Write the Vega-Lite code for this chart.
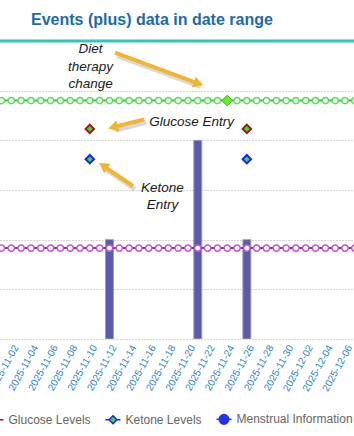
{
  "$schema": "https://vega.github.io/schema/vega-lite/v6.json",
  "width": 354,
  "height": 298,
  "autosize": {"type": "none"},
  "padding": {"left": 0, "top": 41, "right": 0, "bottom": 97},
  "title": {"text": "Events (plus) data in date range", "anchor": "start", "frame": "group", "dx": 31, "offset": -1.5, "baseline": "alphabetic", "font": "Liberation Sans", "fontSize": 16, "fontWeight": "bold", "color": "#1b6ca8"},
  "config": {
    "view": {"stroke": null},
    "axisX": {"labels": false, "grid": false, "domain": false, "ticks": false},
    "axisY": {"grid": true, "gridDash": [1,2], "gridColor": "#aaaaaa", "gridWidth": 1, "labels": false, "ticks": false, "domain": false}
  },
  "datasets": {
    "daily": [
      {"date":"2025-10-31T12:00","series":"diet","value":4.8},{"date":"2025-11-01T12:00","series":"diet","value":4.8},{"date":"2025-11-02T12:00","series":"diet","value":4.8},{"date":"2025-11-03T12:00","series":"diet","value":4.8},{"date":"2025-11-04T12:00","series":"diet","value":4.8},{"date":"2025-11-05T12:00","series":"diet","value":4.8},{"date":"2025-11-06T12:00","series":"diet","value":4.8},{"date":"2025-11-07T12:00","series":"diet","value":4.8},{"date":"2025-11-08T12:00","series":"diet","value":4.8},{"date":"2025-11-09T12:00","series":"diet","value":4.8},{"date":"2025-11-10T12:00","series":"diet","value":4.8},{"date":"2025-11-11T12:00","series":"diet","value":4.8},{"date":"2025-11-12T12:00","series":"diet","value":4.8},{"date":"2025-11-13T12:00","series":"diet","value":4.8},{"date":"2025-11-14T12:00","series":"diet","value":4.8},{"date":"2025-11-15T12:00","series":"diet","value":4.8},{"date":"2025-11-16T12:00","series":"diet","value":4.8},{"date":"2025-11-17T12:00","series":"diet","value":4.8},{"date":"2025-11-18T12:00","series":"diet","value":4.8},{"date":"2025-11-19T12:00","series":"diet","value":4.8},{"date":"2025-11-20T12:00","series":"diet","value":4.8},{"date":"2025-11-21T12:00","series":"diet","value":4.8},{"date":"2025-11-22T12:00","series":"diet","value":4.8},{"date":"2025-11-23T12:00","series":"diet","value":4.8},{"date":"2025-11-24T12:00","series":"diet","value":4.8},{"date":"2025-11-25T12:00","series":"diet","value":4.8},{"date":"2025-11-26T12:00","series":"diet","value":4.8},{"date":"2025-11-27T12:00","series":"diet","value":4.8},{"date":"2025-11-28T12:00","series":"diet","value":4.8},{"date":"2025-11-29T12:00","series":"diet","value":4.8},{"date":"2025-11-30T12:00","series":"diet","value":4.8},{"date":"2025-12-01T12:00","series":"diet","value":4.8},{"date":"2025-12-02T12:00","series":"diet","value":4.8},{"date":"2025-12-03T12:00","series":"diet","value":4.8},{"date":"2025-12-04T12:00","series":"diet","value":4.8},{"date":"2025-12-05T12:00","series":"diet","value":4.8},{"date":"2025-12-06T12:00","series":"diet","value":4.8},
      {"date":"2025-10-31T12:00","series":"menstrual","value":1.83},{"date":"2025-11-01T12:00","series":"menstrual","value":1.83},{"date":"2025-11-02T12:00","series":"menstrual","value":1.83},{"date":"2025-11-03T12:00","series":"menstrual","value":1.83},{"date":"2025-11-04T12:00","series":"menstrual","value":1.83},{"date":"2025-11-05T12:00","series":"menstrual","value":1.83},{"date":"2025-11-06T12:00","series":"menstrual","value":1.83},{"date":"2025-11-07T12:00","series":"menstrual","value":1.83},{"date":"2025-11-08T12:00","series":"menstrual","value":1.83},{"date":"2025-11-09T12:00","series":"menstrual","value":1.83},{"date":"2025-11-10T12:00","series":"menstrual","value":1.83},{"date":"2025-11-11T12:00","series":"menstrual","value":1.83},{"date":"2025-11-12T12:00","series":"menstrual","value":1.83},{"date":"2025-11-13T12:00","series":"menstrual","value":1.83},{"date":"2025-11-14T12:00","series":"menstrual","value":1.83},{"date":"2025-11-15T12:00","series":"menstrual","value":1.83},{"date":"2025-11-16T12:00","series":"menstrual","value":1.83},{"date":"2025-11-17T12:00","series":"menstrual","value":1.83},{"date":"2025-11-18T12:00","series":"menstrual","value":1.83},{"date":"2025-11-19T12:00","series":"menstrual","value":1.83},{"date":"2025-11-20T12:00","series":"menstrual","value":1.83},{"date":"2025-11-21T12:00","series":"menstrual","value":1.83},{"date":"2025-11-22T12:00","series":"menstrual","value":1.83},{"date":"2025-11-23T12:00","series":"menstrual","value":1.83},{"date":"2025-11-24T12:00","series":"menstrual","value":1.83},{"date":"2025-11-25T12:00","series":"menstrual","value":1.83},{"date":"2025-11-26T12:00","series":"menstrual","value":1.83},{"date":"2025-11-27T12:00","series":"menstrual","value":1.83},{"date":"2025-11-28T12:00","series":"menstrual","value":1.83},{"date":"2025-11-29T12:00","series":"menstrual","value":1.83},{"date":"2025-11-30T12:00","series":"menstrual","value":1.83},{"date":"2025-12-01T12:00","series":"menstrual","value":1.83},{"date":"2025-12-02T12:00","series":"menstrual","value":1.83},{"date":"2025-12-03T12:00","series":"menstrual","value":1.83},{"date":"2025-12-04T12:00","series":"menstrual","value":1.83},{"date":"2025-12-05T12:00","series":"menstrual","value":1.83},{"date":"2025-12-06T12:00","series":"menstrual","value":1.83}
    ],
    "ticks": [
      {"date":"2025-11-02T00:00"},{"date":"2025-11-04T00:00"},{"date":"2025-11-06T00:00"},{"date":"2025-11-08T00:00"},{"date":"2025-11-10T00:00"},{"date":"2025-11-12T00:00"},{"date":"2025-11-14T00:00"},{"date":"2025-11-16T00:00"},{"date":"2025-11-18T00:00"},{"date":"2025-11-20T00:00"},{"date":"2025-11-22T00:00"},{"date":"2025-11-24T00:00"},{"date":"2025-11-26T00:00"},{"date":"2025-11-28T00:00"},{"date":"2025-11-30T00:00"},{"date":"2025-12-02T00:00"},{"date":"2025-12-04T00:00"},{"date":"2025-12-06T00:00"}
    ],
    "bars": [
      {"date":"2025-11-11T12:00","value":2},
      {"date":"2025-11-20T12:00","value":4},
      {"date":"2025-11-25T12:00","value":2}
    ],
    "entries": [
      {"date":"2025-11-09T12:00","series":"Glucose Levels","value":4.23},
      {"date":"2025-11-25T12:00","series":"Glucose Levels","value":4.23},
      {"date":"2025-11-09T12:00","series":"Ketone Levels","value":3.62},
      {"date":"2025-11-25T12:00","series":"Ketone Levels","value":3.62}
    ],
    "events": [
      {"date":"2025-11-23T12:00","value":4.8,"event":"Diet therapy change"}
    ],
    "arrows": [
      {"date":"2025-11-20T13:41","value":5.144,"date2":"2025-11-12T01:41","value2":5.764,"heading":19.7},
      {"date":"2025-11-11T20:34","value":4.264,"date2":"2025-11-15T01:05","value2":4.423,"heading":166.2},
      {"date":"2025-11-10T20:47","value":3.487,"date2":"2025-11-13T21:30","value2":3.08,"heading":213.4}
    ],
    "notes": [
      {"date":"2025-11-09T13:41","value":5.838,"label":"Diet"},
      {"date":"2025-11-09T13:41","value":5.486,"label":"therapy"},
      {"date":"2025-11-09T13:41","value":5.144,"label":"change"},
      {"date":"2025-11-19T20:53","value":4.375,"label":"Glucose Entry"},
      {"date":"2025-11-16T21:36","value":3.034,"label":"Ketone"},
      {"date":"2025-11-16T21:36","value":2.688,"label":"Entry"}
    ]
  },
  "layer": [
    {
      "data": {"name": "bars"},
      "mark": {"type": "bar", "width": 8, "color": "#5a5cab", "stroke": "#a0a0a8", "strokeWidth": 1, "clip": true},
      "encoding": {
        "x": {"field": "date", "type": "temporal", "title": null, "scale": {"domain": [{"year":2025,"month":10,"date":31,"hours":20,"minutes":34},{"year":2025,"month":12,"date":5,"hours":21,"minutes":46}]}},
        "y": {"field": "value", "type": "quantitative", "title": null, "scale": {"domain": [0, 6]}, "axis": {"values": [0,1,2,3,4,5]}}
      }
    },
    {
      "data": {"name": "ticks"},
      "mark": {"type": "text", "angle": 299, "align": "right", "baseline": "middle", "font": "Liberation Sans", "fontSize": 10, "color": "#1f7fd6", "yOffset": 7},
      "encoding": {
        "x": {"field": "date", "type": "temporal", "title": null, "scale": {"domain": [{"year":2025,"month":10,"date":31,"hours":20,"minutes":34},{"year":2025,"month":12,"date":5,"hours":21,"minutes":46}]}},
        "y": {"datum": 0, "type": "quantitative", "scale": {"domain": [0, 6]}},
        "text": {"field": "date", "type": "temporal", "format": "%Y-%m-%d"}
      }
    },
    {
      "data": {"name": "daily"},
      "transform": [{"filter": "datum.series === 'diet'"}],
      "mark": {"type": "line", "color": "#2ecc2e", "strokeWidth": 2, "clip": true},
      "encoding": {
        "x": {"field": "date", "type": "temporal", "title": null, "scale": {"domain": [{"year":2025,"month":10,"date":31,"hours":20,"minutes":34},{"year":2025,"month":12,"date":5,"hours":21,"minutes":46}]}},
        "y": {"field": "value", "type": "quantitative", "title": null, "scale": {"domain": [0, 6]}}
      }
    },
    {
      "data": {"name": "daily"},
      "transform": [{"filter": "datum.series === 'diet'"}],
      "mark": {"type": "point", "shape": "circle", "filled": true, "fill": "#ffffff", "stroke": "#5ade5a", "strokeWidth": 1.5, "size": 40, "opacity": 1, "clip": true},
      "encoding": {
        "x": {"field": "date", "type": "temporal", "title": null, "scale": {"domain": [{"year":2025,"month":10,"date":31,"hours":20,"minutes":34},{"year":2025,"month":12,"date":5,"hours":21,"minutes":46}]}},
        "y": {"field": "value", "type": "quantitative", "title": null, "scale": {"domain": [0, 6]}}
      }
    },
    {
      "data": {"name": "daily"},
      "transform": [{"filter": "datum.series === 'menstrual'"}],
      "mark": {"type": "line", "color": "#a020a8", "strokeWidth": 2, "clip": true},
      "encoding": {
        "x": {"field": "date", "type": "temporal", "title": null, "scale": {"domain": [{"year":2025,"month":10,"date":31,"hours":20,"minutes":34},{"year":2025,"month":12,"date":5,"hours":21,"minutes":46}]}},
        "y": {"field": "value", "type": "quantitative", "title": null, "scale": {"domain": [0, 6]}}
      }
    },
    {
      "data": {"name": "daily"},
      "transform": [{"filter": "datum.series === 'menstrual'"}],
      "mark": {"type": "point", "shape": "circle", "filled": true, "fill": "#ffffff", "stroke": "#c458d0", "strokeWidth": 1.5, "size": 40, "opacity": 1, "clip": true},
      "encoding": {
        "x": {"field": "date", "type": "temporal", "title": null, "scale": {"domain": [{"year":2025,"month":10,"date":31,"hours":20,"minutes":34},{"year":2025,"month":12,"date":5,"hours":21,"minutes":46}]}},
        "y": {"field": "value", "type": "quantitative", "title": null, "scale": {"domain": [0, 6]}}
      }
    },
    {
      "data": {"name": "entries"},
      "mark": {"type": "point", "shape": "diamond", "filled": true, "size": 72, "strokeWidth": 2, "opacity": 1},
      "encoding": {
        "x": {"field": "date", "type": "temporal", "title": null, "scale": {"domain": [{"year":2025,"month":10,"date":31,"hours":20,"minutes":34},{"year":2025,"month":12,"date":5,"hours":21,"minutes":46}]}},
        "y": {"field": "value", "type": "quantitative", "title": null, "scale": {"domain": [0, 6]}},
        "fill": {"field": "series", "type": "nominal", "scale": {"domain": ["Glucose Levels", "Ketone Levels", "Menstrual Information"], "range": ["#33dd33", "#33dd33", "#2233ee"]},
          "legend": {"title": null, "orient": "none", "legendX": -12.5, "legendY": 369.5, "direction": "horizontal", "padding": 0, "symbolSize": 225, "symbolStrokeWidth": 1.5, "labelFont": "Liberation Sans", "labelFontSize": 12, "labelColor": "#666666", "labelOffset": 4, "columnPadding": 11, "labelLimit": 300,
            "encoding": {"symbols": {"shape": {"value": {"expr": "datum.value === 'Menstrual Information' ? 'M-1,0L-0.64,0M0.64,0L1,0M-0.64,0A0.64,0.64 0 1,0 0.64,0A0.64,0.64 0 1,0 -0.64,0Z' : 'M-1,0L-0.53,0M0.53,0L1,0M0,-0.53L0.53,0L0,0.53L-0.53,0Z'"}}}}}},
        "stroke": {"field": "series", "type": "nominal", "scale": {"domain": ["Glucose Levels", "Ketone Levels", "Menstrual Information"], "range": ["#a01818", "#2222ee", "#2233ee"]},
          "legend": {"title": null, "orient": "none", "legendX": -12.5, "legendY": 369.5, "direction": "horizontal", "padding": 0, "symbolSize": 225, "symbolStrokeWidth": 1.5, "labelFont": "Liberation Sans", "labelFontSize": 12, "labelColor": "#666666", "labelOffset": 4, "columnPadding": 11, "labelLimit": 300,
            "encoding": {"symbols": {"shape": {"value": {"expr": "datum.value === 'Menstrual Information' ? 'M-1,0L-0.64,0M0.64,0L1,0M-0.64,0A0.64,0.64 0 1,0 0.64,0A0.64,0.64 0 1,0 -0.64,0Z' : 'M-1,0L-0.53,0M0.53,0L1,0M0,-0.53L0.53,0L0,0.53L-0.53,0Z'"}}}}}}
      }
    },
    {
      "data": {"name": "events"},
      "mark": {"type": "point", "shape": "diamond", "filled": true, "size": 115, "fill": "#66ee22", "stroke": "#3fb82a", "strokeWidth": 1, "opacity": 1},
      "encoding": {
        "x": {"field": "date", "type": "temporal", "title": null, "scale": {"domain": [{"year":2025,"month":10,"date":31,"hours":20,"minutes":34},{"year":2025,"month":12,"date":5,"hours":21,"minutes":46}]}},
        "y": {"field": "value", "type": "quantitative", "title": null, "scale": {"domain": [0, 6]}}
      }
    },
    {
      "data": {"name": "arrows"},
      "mark": {"type": "rule", "color": "#000000", "opacity": 0.15, "strokeWidth": 5, "xOffset": 2, "yOffset": 3, "x2Offset": 2, "y2Offset": 3},
      "encoding": {
        "x": {"field": "date", "type": "temporal", "title": null, "scale": {"domain": [{"year":2025,"month":10,"date":31,"hours":20,"minutes":34},{"year":2025,"month":12,"date":5,"hours":21,"minutes":46}]}},
        "y": {"field": "value", "type": "quantitative", "title": null, "scale": {"domain": [0, 6]}},
        "x2": {"field": "date2"},
        "y2": {"field": "value2"}
      }
    },
    {
      "data": {"name": "arrows"},
      "mark": {"type": "rule", "color": "#f3b531", "strokeWidth": 4},
      "encoding": {
        "x": {"field": "date", "type": "temporal", "title": null, "scale": {"domain": [{"year":2025,"month":10,"date":31,"hours":20,"minutes":34},{"year":2025,"month":12,"date":5,"hours":21,"minutes":46}]}},
        "y": {"field": "value", "type": "quantitative", "title": null, "scale": {"domain": [0, 6]}},
        "x2": {"field": "date2"},
        "y2": {"field": "value2"}
      }
    },
    {
      "data": {"name": "arrows"},
      "mark": {"type": "point", "shape": "triangle-right", "filled": true, "color": "#f3b531", "size": 130, "opacity": 1},
      "encoding": {
        "x": {"field": "date", "type": "temporal", "title": null, "scale": {"domain": [{"year":2025,"month":10,"date":31,"hours":20,"minutes":34},{"year":2025,"month":12,"date":5,"hours":21,"minutes":46}]}},
        "y": {"field": "value", "type": "quantitative", "title": null, "scale": {"domain": [0, 6]}},
        "angle": {"field": "heading", "type": "quantitative", "scale": null}
      }
    },
    {
      "data": {"name": "notes"},
      "mark": {"type": "text", "font": "Liberation Sans", "fontSize": 13.5, "fontStyle": "italic", "color": "#1a1a1a", "align": "center", "baseline": "middle"},
      "encoding": {
        "x": {"field": "date", "type": "temporal", "title": null, "scale": {"domain": [{"year":2025,"month":10,"date":31,"hours":20,"minutes":34},{"year":2025,"month":12,"date":5,"hours":21,"minutes":46}]}},
        "y": {"field": "value", "type": "quantitative", "title": null, "scale": {"domain": [0, 6]}},
        "text": {"field": "label"}
      }
    },
    {
      "data": {"values": [{"top": 6}]},
      "mark": {"type": "rule", "color": "#36c3bd", "strokeWidth": 3},
      "encoding": {
        "y": {"field": "top", "type": "quantitative", "title": null, "scale": {"domain": [0, 6]}}
      }
    }
  ]
}
